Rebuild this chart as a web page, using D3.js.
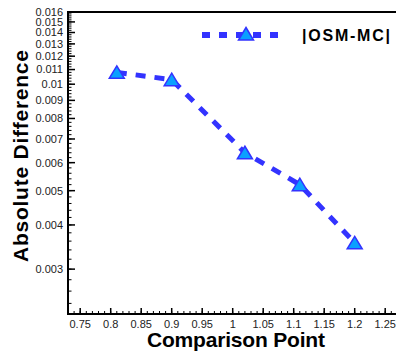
<!DOCTYPE html>
<meta charset="utf-8">
<style>
body { margin: 0; background: #fff; }
text { font-family: "Liberation Sans", Arial, sans-serif; }
.tick-label { font-size: 11px; fill: #222; }
.title { font-size: 21px; font-weight: bold; fill: #000; }
</style>
<svg width="396" height="352"></svg>
<script src="https://d3js.org/d3.v7.min.js"></script>
<script>

// data
var xValues = [0.81, 0.90, 1.02, 1.11, 1.20],
    yValues = [0.0108, 0.0103, 0.0064, 0.0052, 0.00356];

var seriesName = "|OSM-MC|";

var xTicks = [0.75, 0.8, 0.85, 0.9, 0.95, 1, 1.05, 1.1, 1.15, 1.2, 1.25],
    xTickLabels = ["0.75", "0.8", "0.85", "0.9", "0.95", "1", "1.05", "1.1", "1.15", "1.2", "1.25"];

var yTicks = [0.003, 0.004, 0.005, 0.006, 0.007, 0.008, 0.009, 0.01, 0.011, 0.012, 0.013, 0.014, 0.015, 0.016],
    yTickLabels = ["0.003", "0.004", "0.005", "0.006", "0.007", "0.008", "0.009", "0.01", "0.011", "0.012", "0.013", "0.014", "0.015", "0.016"];

var svg = d3.select("svg"),
    plotLeft = 68, plotBottom = 314, plotTop = 12;

var x = d3.scaleLinear().domain([0.73, 1.27]).range([plotLeft, plotLeft + 0.54 * 610]),
    y = d3.scaleLog().domain([0.00224, 0.016]).range([plotBottom, plotTop]);

var lineColor = "#3333ff",
    fillColor = "#0aa0ff";

// minor ticks
var xMinor = d3.range(73, 128, 1).map(function(d) { return d / 100; }),
    yMinor = d3.range(24, 161, 2).map(function(d) { return d / 10000; });

var g = svg.append("g");

g.selectAll(".xminor").data(xMinor).enter().append("line")
    .attr("x1", function(d) { return x(d); }).attr("x2", function(d) { return x(d); })
    .attr("y1", plotBottom).attr("y2", plotBottom - 3)
    .attr("stroke", "#000").attr("stroke-width", 1);

g.selectAll(".xmajor").data(xTicks).enter().append("line")
    .attr("x1", function(d) { return x(d); }).attr("x2", function(d) { return x(d); })
    .attr("y1", plotBottom).attr("y2", plotBottom - 6)
    .attr("stroke", "#000").attr("stroke-width", 1.5);

g.selectAll(".yminor").data(yMinor).enter().append("line")
    .attr("x1", plotLeft).attr("x2", plotLeft + 3.5)
    .attr("y1", function(d) { return y(d); }).attr("y2", function(d) { return y(d); })
    .attr("stroke", "#000").attr("stroke-width", 1);

g.selectAll(".ymajor").data(yTicks).enter().append("line")
    .attr("x1", plotLeft).attr("x2", plotLeft + 7)
    .attr("y1", function(d) { return y(d); }).attr("y2", function(d) { return y(d); })
    .attr("stroke", "#000").attr("stroke-width", 1.5);

// tick labels
g.selectAll(".xl").data(xTicks).enter().append("text")
    .attr("class", "tick-label")
    .attr("x", function(d) { return x(d); })
    .attr("y", 328)
    .attr("text-anchor", "middle")
    .text(function(d, i) { return xTickLabels[i]; });

g.selectAll(".yl").data(yTicks).enter().append("text")
    .attr("class", "tick-label")
    .attr("x", 63)
    .attr("y", function(d) { return y(d); })
    .attr("dy", "0.35em")
    .attr("text-anchor", "end")
    .text(function(d, i) { return yTickLabels[i]; });

// frame
svg.append("path")
    .attr("d", "M" + plotLeft + "," + plotBottom + "V" + plotTop + "H396")
    .attr("fill", "none").attr("stroke", "#000").attr("stroke-width", 2);
svg.append("path")
    .attr("d", "M" + (plotLeft - 1) + "," + plotBottom + "H396")
    .attr("fill", "none").attr("stroke", "#000").attr("stroke-width", 2);

// series
var pts = xValues.map(function(d, i) { return [d, yValues[i]]; });

svg.append("path")
    .datum(pts)
    .attr("fill", "none")
    .attr("stroke", lineColor)
    .attr("stroke-width", 5)
    .attr("stroke-dasharray", "10,9")
    .attr("d", d3.line().x(function(d) { return x(d[0]); }).y(function(d) { return y(d[1]); }));

var tri = "M0,-6.5L7.5,6L-7.5,6Z";

svg.selectAll(".pt").data(pts).enter().append("path")
    .attr("d", tri)
    .attr("transform", function(d) { return "translate(" + x(d[0]) + "," + y(d[1]) + ")"; })
    .attr("fill", fillColor)
    .attr("stroke", lineColor)
    .attr("stroke-width", 1.5);

// legend
var lg = svg.append("g");
lg.append("line")
    .attr("x1", 202).attr("x2", 282).attr("y1", 35).attr("y2", 35)
    .attr("stroke", lineColor).attr("stroke-width", 6)
    .attr("stroke-dasharray", "8,9");
lg.append("path")
    .attr("d", tri)
    .attr("transform", "translate(246,34)")
    .attr("fill", fillColor)
    .attr("stroke", lineColor)
    .attr("stroke-width", 1.5);
lg.append("text")
    .attr("x", 302).attr("y", 41)
    .attr("font-size", 16).attr("font-weight", "bold")
    .attr("textLength", 88).attr("lengthAdjust", "spacing")
    .text(seriesName);

// axis titles
svg.append("text")
    .attr("class", "title")
    .attr("x", 236).attr("y", 347)
    .attr("text-anchor", "middle")
    .attr("textLength", 178).attr("lengthAdjust", "spacing")
    .text("Comparison Point");

svg.append("text")
    .attr("class", "title")
    .attr("transform", "translate(28,156) rotate(-90)")
    .attr("text-anchor", "middle")
    .attr("textLength", 212).attr("lengthAdjust", "spacing")
    .text("Absolute Difference");

</script>
